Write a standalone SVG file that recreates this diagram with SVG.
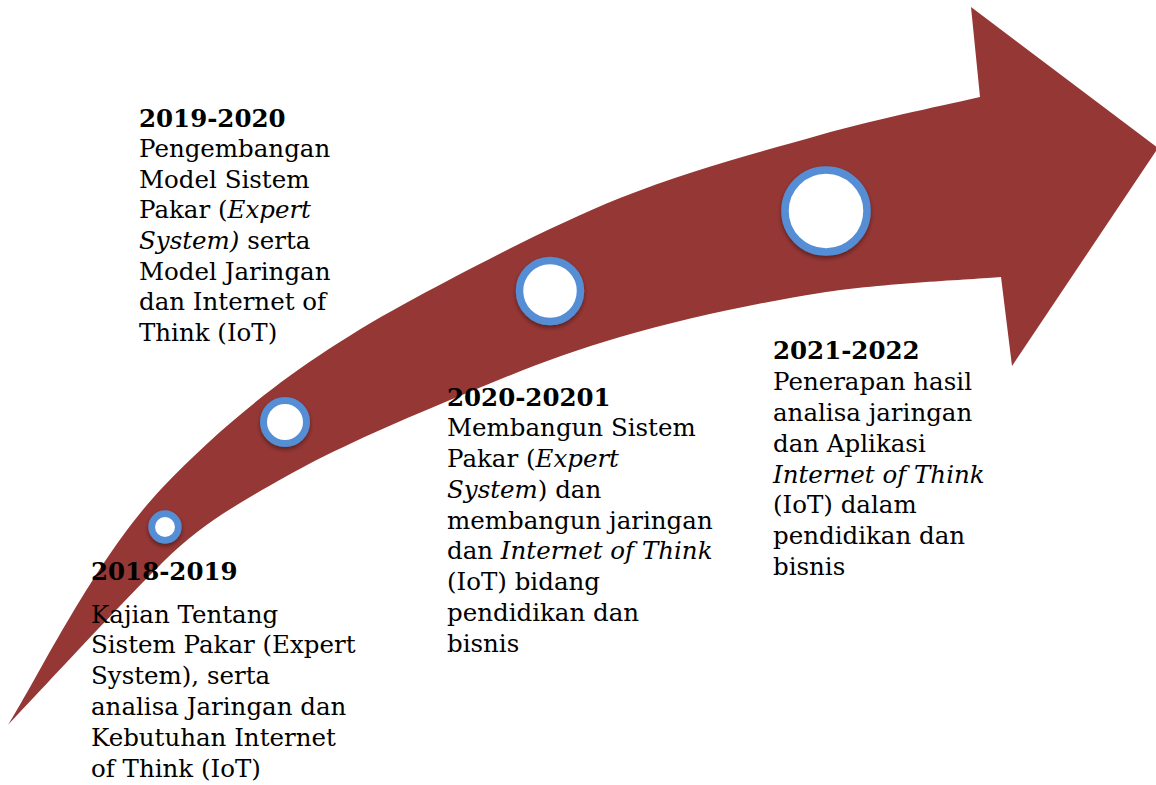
<svg xmlns="http://www.w3.org/2000/svg" width="1156" height="785" viewBox="0 0 1156 785">
<defs>
<filter id="sh" x="-30%" y="-30%" width="160%" height="170%">
<feDropShadow dx="0" dy="2.5" stdDeviation="2" flood-color="#000" flood-opacity="0.4"/>
</filter>
</defs>
<style>
.arrow{fill:#953735}
.dot{fill:#ffffff;stroke:#558ed5;filter:url(#sh)}
text{font-family:"DejaVu Serif","Liberation Serif",serif;font-size:24.5px;fill:#000}
.h{font-weight:bold}
.i{font-style:italic}
</style>
<rect width="1156" height="785" fill="#ffffff"/>
<g id="connectors">
<path class="arrow" d="M8,725 C33.8,685.3 94.8,558.3 163,487 C231.2,415.7 307.5,355.7 417,297 C473.2,267 552.8,225 620,198 C687.2,171 760,151.8 820,135 C880,118.2 953.3,103.3 980,97 L971,7 L1158,148 L1012,366 L1001,277 C970.8,279.7 883.5,283 820,293 C756.5,303 681.7,319.2 620,337 C558.3,354.8 505.8,376.7 450,400 C394.2,423.3 332.8,450 285,477 C237.2,504 200,525 163,562 C116.8,608 33.8,697.8 8,725 Z"/>
</g>
<g id="node-1">
<circle class="dot" cx="165" cy="527" r="13.3" stroke-width="6.7"/>
</g>
<g id="node-2">
<circle class="dot" cx="285" cy="422" r="21.5" stroke-width="7"/>
</g>
<g id="node-3">
<circle class="dot" cx="550" cy="291" r="30.5" stroke-width="7.5"/>
</g>
<g id="node-4">
<circle class="dot" cx="826" cy="211" r="41" stroke-width="7.5"/>
</g>
<g id="label-2019">
<text x="139" y="127" class="h">2019-2020</text>
<text x="139" y="157">Pengembangan</text>
<text x="139" y="188">Model Sistem</text>
<text x="139" y="218">Pakar (<tspan class="i">Expert</tspan></text>
<text x="139" y="249"><tspan class="i">System)</tspan> serta</text>
<text x="139" y="280">Model Jaringan</text>
<text x="139" y="310">dan Internet of</text>
<text x="139" y="341">Think (IoT)</text>
</g>
<g id="label-2018">
<text x="91" y="580" class="h">2018-2019</text>
<text x="91" y="623">Kajian Tentang</text>
<text x="91" y="653">Sistem Pakar (Expert</text>
<text x="91" y="684">System), serta</text>
<text x="91" y="715">analisa Jaringan dan</text>
<text x="91" y="746">Kebutuhan Internet</text>
<text x="91" y="777">of Think (IoT)</text>
</g>
<g id="label-2020">
<text x="447" y="406" class="h">2020-20201</text>
<text x="447" y="436">Membangun Sistem</text>
<text x="447" y="467">Pakar (<tspan class="i">Expert</tspan></text>
<text x="447" y="498"><tspan class="i">System</tspan>) dan</text>
<text x="447" y="529">membangun jaringan</text>
<text x="447" y="559">dan <tspan class="i">Internet of Think</tspan></text>
<text x="447" y="590">(IoT) bidang</text>
<text x="447" y="621">pendidikan dan</text>
<text x="447" y="652">bisnis</text>
</g>
<g id="label-2021">
<text x="773" y="359" class="h">2021-2022</text>
<text x="773" y="390">Penerapan hasil</text>
<text x="773" y="421">analisa jaringan</text>
<text x="773" y="452">dan Aplikasi</text>
<text x="773" y="483" class="i">Internet of Think</text>
<text x="773" y="513">(IoT) dalam</text>
<text x="773" y="544">pendidikan dan</text>
<text x="773" y="575">bisnis</text>
</g>
</svg>
